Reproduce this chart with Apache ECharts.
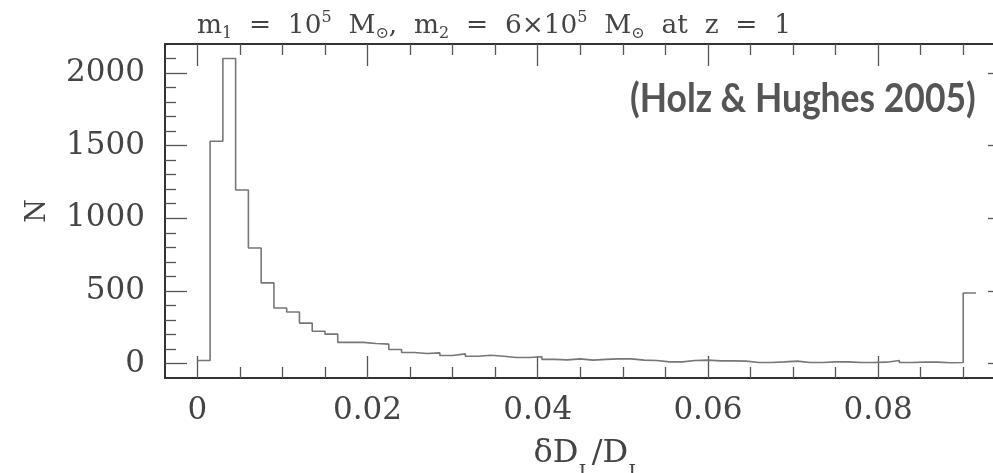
<!DOCTYPE html>
<html>
<head>
<meta charset="utf-8">
<script src="https://cdn.jsdelivr.net/npm/echarts@6/dist/echarts.min.js"></script>
<style>
html,body{margin:0;padding:0;background:#fff;}
#chart{width:993px;height:473px;}
</style>
</head>
<body>
<div id="chart"></div>
<script>
// ---- data ----
const binWidth = 0.0015;           // histogram bin width in dD_L/D_L
const binStart = 0;                 // left edge of first bin
const counts = [20,1530,2100,1195,795,555,382,354,278,222,202,145,145,138,133,96,76,69,73,55,
                66,50,57,50,41,41,46,28,25,32,23,28,32,32,23,21,11,11,21,23,
                18,18,16,7,7,11,16,7,7,11,11,7,7,9,21,7,9,9,5,7,485];
const xTickLabels = [0, 0.02, 0.04, 0.06, 0.08];
const xMinorTicks = [0.005,0.01,0.015,0.025,0.03,0.035,0.045,0.05,0.055,0.065,0.07,0.075,0.085,0.09,0.095];
const yTickLabels = [0, 500, 1000, 1500, 2000];
const yMinorTicks = [100,200,300,400,600,700,800,900,1100,1200,1300,1400,1600,1700,1800,1900,2100];
const xRange = [-0.0038, 0.0955];
const yRange = [-100, 2200];

// build step points at bin edges
const stepData = counts.map((c, i) => [binStart + i * binWidth, c]);
stepData.push([binStart + counts.length * binWidth, counts[counts.length - 1]]);

const FONT = 'DejaVu Serif';
const TXT = '#444';
const AX = '#333';

function xAxisDef(pos, major, showLine, showLabel) {
  return {
    type: 'value', position: pos, min: xRange[0], max: xRange[1],
    splitLine: {show: false},
    axisLine: {show: showLine, onZero: false, lineStyle: {color: AX, width: 2}},
    axisTick: {show: true, inside: true, length: major ? 22 : 11,
               customValues: major ? xTickLabels : xMinorTicks,
               lineStyle: {color: '#555', width: 1.3}},
    axisLabel: {show: showLabel, customValues: xTickLabels, margin: 17,
                formatter: v => String(v),
                fontFamily: FONT, fontSize: 31, color: TXT}
  };
}
function yAxisDef(pos, major, showLine, showLabel) {
  return {
    type: 'value', position: pos, min: yRange[0], max: yRange[1],
    splitLine: {show: false},
    axisLine: {show: showLine, onZero: false, lineStyle: {color: AX, width: 2}},
    axisTick: {show: true, inside: true, length: major ? 22 : 11,
               customValues: major ? yTickLabels : yMinorTicks,
               lineStyle: {color: '#555', width: 1.3}},
    axisLabel: {show: showLabel, customValues: yTickLabels, margin: 20,
                formatter: v => String(v),
                fontFamily: FONT, fontSize: 31, color: TXT}
  };
}

const xa0 = xAxisDef('bottom', true, true, true);
xa0.name = '{t|δD}{s|L}{t|/D}{s|L}';
xa0.nameLocation = 'middle';
xa0.nameGap = 58;
xa0.nameTextStyle = {
  rich: {
    t: {fontFamily: FONT, fontSize: 32, color: TXT, lineHeight: 36, verticalAlign: 'middle'},
    s: {fontFamily: FONT, fontSize: 20, color: TXT, lineHeight: 20, verticalAlign: 'bottom', padding: [0,0,-12,0]}
  }
};
const ya0 = yAxisDef('left', true, true, true);
ya0.name = 'N';
ya0.nameLocation = 'middle';
ya0.nameGap = 114;
ya0.nameTextStyle = {fontFamily: FONT, fontSize: 27, color: TXT};

const chart = echarts.init(document.getElementById('chart'), null, {renderer: 'canvas'});
chart.setOption({
  animation: false,
  backgroundColor: '#fff',
  title: {
    text: '{t|m}{s|1}{t|  =  10}{p|5}{t|  M}{s|⊙}{t|,  m}{s|2}{t|  =  6×10}{p|5}{t|  M}{s|⊙}{t|  at  z  =  1}',
    left: 197, top: 10, padding: 0,
    textStyle: {
      fontWeight: 'normal',
      rich: {
        t: {fontFamily: FONT, fontSize: 26.4, fontWeight: 'normal', color: TXT, lineHeight: 32, verticalAlign: 'middle'},
        s: {fontFamily: FONT, fontSize: 16, fontWeight: 'normal', color: TXT, lineHeight: 16, verticalAlign: 'bottom'},
        p: {fontFamily: FONT, fontSize: 16, fontWeight: 'normal', color: TXT, lineHeight: 16, verticalAlign: 'top'}
      }
    }
  },
  grid: {left: 165, right: -17, top: 44, bottom: 95, containLabel: false, outerBoundsMode: 'none'},
  xAxis: [
    xa0,
    xAxisDef('bottom', false, false, false),
    xAxisDef('top', true, true, false),
    xAxisDef('top', false, false, false)
  ],
  yAxis: [
    ya0,
    yAxisDef('left', false, false, false),
    yAxisDef('right', true, true, false),
    yAxisDef('right', false, false, false)
  ],
  graphic: [{
    type: 'text', x: 630, y: 78, scaleX: 0.865,
    style: {text: '(Holz & Hughes 2005)', font: 'bold 41px Lato', fill: '#555', verticalAlign: 'top'}
  }],
  series: [{
    type: 'line', xAxisIndex: 0, yAxisIndex: 0,
    step: 'end', data: stepData, showSymbol: false, symbol: 'none',
    lineStyle: {color: '#777', width: 1.6}
  }]
});
</script>
</body>
</html>
